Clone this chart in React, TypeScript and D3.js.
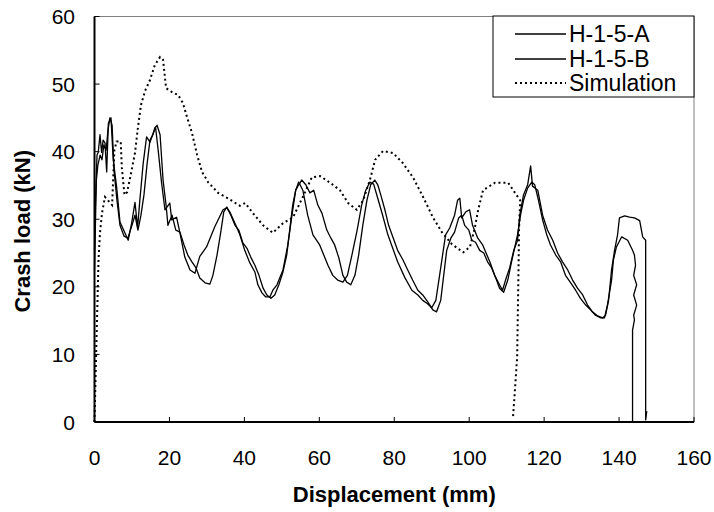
import React from "react";
import * as d3 from "d3";

const xTicks = [0, 20, 40, 60, 80, 100, 120, 140, 160];
const yTicks = [0, 10, 20, 30, 40, 50, 60];
const seriesNames = ["H-1-5-A", "H-1-5-B", "Simulation"];

const specimenA: [number, number][] = [[0,25.4],[0.27,32.8],[0.67,39.5],[1.0,39.9],[1.47,42.5],[1.9,39.9],[2.3,41.7],[2.8,41.3],[3.25,37],[3.7,44.2],[4.4,45],[5.0,38.8],[5.9,34.8],[6.8,29.6],[8.1,28],[9.0,26.9],[9.9,29.4],[10.8,32.5],[11.5,28.8],[12.1,32.8],[13.0,38.3],[13.9,42.2],[14.8,41.4],[15.7,42.8],[16.3,43.6],[17.0,40.2],[17.9,35.4],[18.8,31.4],[20.1,32.4],[20.6,29.9],[21.9,30.3],[22.8,28],[24.1,24.4],[25.5,22.5],[26.8,22],[28.1,24.5],[29.9,25.9],[32.1,28.9],[34.3,31.4],[35.3,31.7],[36.1,31.1],[37.9,28.9],[38.8,27.7],[40.1,25.4],[41.5,23.5],[42.8,22.2],[43.6,20.3],[44.7,19.1],[45.7,18.5],[46.8,18.5],[47.6,19.5],[48.7,20.3],[50.3,22.5],[51.6,26.2],[52.7,30.6],[53.7,34.3],[54.5,35.5],[55.6,34.3],[56.9,30.6],[58.3,27.7],[60.1,26.2],[62.3,23.2],[63.6,21.7],[64.9,21],[66.3,20.7],[67.5,21.7],[68.7,24.7],[70.1,28.4],[71.3,32.1],[72.4,34.3],[73.5,35.5],[74.5,35.2],[75.6,33.1],[76.9,30.6],[78.3,27.7],[79.6,25.7],[80.9,23.7],[82.8,21.4],[84.7,19.5],[86.3,18.8],[87.6,18],[88.9,17.5],[90,16.9],[91.1,18],[92.1,21.7],[92.9,24.7],[93.7,27.7],[94.8,28.7],[96.1,30.6],[96.9,32.8],[97.5,33.1],[98,30.2],[99.1,31.1],[100.1,31.4],[100.9,29.1],[102.3,27.2],[103.6,26.2],[105.5,23.7],[106.8,21.7],[108.1,20.3],[108.9,19.5],[109.7,21],[110.8,22.8],[111.9,25.4],[112.9,26.9],[113.5,30.6],[114.5,33.6],[115.6,35.1],[116.4,37.9],[116.9,34.9],[118.3,34.3],[119.6,30.6],[120.9,28.4],[122.3,26.9],[123.6,25],[124.9,23.7],[126.3,22.5],[127.6,21],[128.9,19.8],[130.3,18.8],[131.6,17.3],[132.9,16.3],[134.3,15.7],[135.6,15.4],[136.4,15.8],[137.2,18],[138,22.5],[138.8,25.4],[139.6,27.7],[140.1,30.2],[141.5,30.5],[142.8,30.3],[144.1,30.2],[145.5,29.8],[146.3,27.4],[147.1,26.9],[147.1,0.3],[147.4,1.6]];

const specimenB: [number, number][] = [[0,22.5],[0.27,29.9],[0.5,35.8],[0.9,38],[1.5,39.5],[2,38.8],[2.5,41],[3.1,40.2],[3.6,43.2],[4.1,45],[4.7,43.9],[5.2,37.3],[6,32.8],[6.8,29.1],[7.9,27.5],[8.9,27.2],[10,29.1],[10.8,30.6],[11.6,28.4],[12.4,30.6],[13.2,33.6],[14,38],[14.8,41.7],[15.6,42.5],[16.1,43.5],[16.7,43.9],[17.5,42.5],[18.3,35.8],[19.1,32.1],[19.6,29.1],[20.7,30.6],[21.7,28.4],[22.8,28.1],[23.9,26.2],[24.9,24.7],[26,23.7],[27.1,22.8],[28.1,21.3],[29.5,20.6],[30.8,20.4],[31.6,21.7],[32.7,24.7],[33.7,28.1],[34.5,31.1],[35.3,31.8],[36.4,30.6],[37.5,29.1],[38.5,28.4],[39.6,26.5],[40.7,25.7],[41.7,24.4],[42.8,23.2],[43.9,21.7],[45,19.8],[46,18.8],[47.1,18.3],[48.1,18.8],[49.2,20.3],[50.3,22.2],[51.3,24.7],[52.1,28.4],[52.9,32.1],[53.7,34.3],[54.5,35.1],[55.3,35.8],[56.4,35.1],[57.5,33.9],[58.5,34.3],[59.6,32.1],[60.7,30.9],[62,28.4],[63.1,27.2],[64.1,26.2],[65.2,24.3],[66.3,21.7],[67.3,20.7],[68.4,20.3],[69.5,21.7],[70.5,24.7],[71.6,29.1],[72.7,32.8],[73.7,35.1],[74.8,35.8],[75.6,35.1],[76.4,33.6],[77.5,31.4],[78.5,29.1],[79.6,27.4],[80.9,25.4],[82.3,24],[83.6,22.5],[84.9,21],[86.3,19.5],[87.6,18.8],[88.9,17.8],[90.3,16.6],[91.3,16.3],[92.4,18],[93.2,21.7],[94,25.4],[95.1,27.2],[96.1,28.1],[97.2,30.2],[98,30.6],[98.8,29.1],[99.9,28.4],[100.7,26.9],[101.7,26.6],[102.8,25.4],[103.9,25],[104.9,23.7],[106,22.8],[107.1,21.3],[108.1,19.8],[109.2,19.2],[110.3,21],[111.3,23.7],[112.1,25.7],[112.9,27.7],[113.7,30.6],[114.5,32.8],[115.6,34.6],[116.7,35.5],[117.5,35.1],[118.5,32.8],[119.6,29.9],[120.7,27.7],[121.7,26.2],[123.1,24.7],[124.4,23.7],[125.7,21.7],[127.1,20.6],[128.4,19.5],[129.7,18.3],[131.1,17.3],[132.4,16.6],[133.7,15.8],[135.1,15.4],[136.1,15.4],[136.9,17.3],[138,21],[138.5,24],[139.3,25.9],[140.7,27.4],[142.3,26.9],[143.6,25.4],[144.1,24.7],[144.4,23.2],[143.9,21.7],[144.7,20.3],[143.9,18.8],[144.7,17.3],[143.9,15.8],[144.1,15.1],[143.6,13.6],[143.6,0]];

const simulation: [number, number][] = [[0,0],[0.27,6.2],[0.53,12.1],[0.8,18],[1.07,24],[1.47,28],[2.0,30.9],[2.8,33.3],[3.6,32.8],[4.7,32.1],[5.3,40.2],[5.9,41.5],[7.0,41.5],[7.3,37.6],[8.0,33.6],[8.7,34],[9.5,36.1],[10.8,39.8],[11.6,43.6],[12.4,46.9],[13.5,49],[14.8,50.6],[16.1,52.8],[17.5,54],[18.3,53.6],[19.1,49.4],[20.7,48.8],[22.3,48.4],[23.6,47.2],[24.7,45.1],[26,42.8],[27.4,39.5],[28.7,37],[30.3,35.5],[33,33.9],[35.6,33.1],[38.8,32],[40.2,32.4],[42.3,30.9],[45,29.1],[47.6,28],[50.3,29.4],[53,30.3],[55.6,33.3],[58,36.2],[60.2,36.4],[62.9,35.4],[65.5,34.3],[67.7,32.4],[70,31.4],[71.7,32.8],[73.5,35.8],[74.9,38.8],[77,40.1],[79.7,39.8],[82.3,38.3],[85,36.2],[87.7,33.3],[90.3,30.3],[92.7,28.1],[95.4,26.3],[98.4,25.1],[100.2,25.9],[101.5,28.7],[102.4,31.4],[103.7,34.3],[106.9,35.4],[110.4,35.4],[113.6,32.8],[113.3,28.4],[113.2,24],[112.8,9.6],[112.2,4.7],[111.7,0.7]];

const W = 714, H = 512;
const M = { left: 94.5, right: 694, top: 16.5, bottom: 422 };
const FONT = "Liberation Sans, Arial, sans-serif";

export default function App() {
  const x = d3.scaleLinear().domain([0, 160]).range([M.left, M.right]);
  const y = d3.scaleLinear().domain([0, 60]).range([M.bottom, M.top]);
  const line = d3.line<[number, number]>().x(d => x(d[0])).y(d => y(d[1]));

  const legendX = 493, legendY = 16, legendW = 201, legendH = 81;
  const rowY = [34, 59, 83];

  return (
    <svg width={W} height={H} style={{ position: "absolute", left: 0, top: 0, background: "#fff" }} fontFamily={FONT}>
      <rect x={0} y={0} width={W} height={H} fill="#fff" />
      <rect x={M.left} y={M.top} width={M.right - M.left} height={M.bottom - M.top} fill="none" stroke="#808080" strokeWidth={1} />
      <path d={line(simulation) || ""} fill="none" stroke="#000" strokeWidth={2} strokeDasharray="2 3" />
      <path d={line(specimenA) || ""} fill="none" stroke="#000" strokeWidth={1.3} strokeLinejoin="round" />
      <path d={line(specimenB) || ""} fill="none" stroke="#000" strokeWidth={1.3} strokeLinejoin="round" />
      <line x1={M.left} x2={M.left} y1={M.top} y2={M.bottom} stroke="#000" strokeWidth={2} />
      <line x1={M.left} x2={M.right} y1={M.bottom} y2={M.bottom} stroke="#000" strokeWidth={2} />
      {yTicks.map(t => (
        <g key={"y" + t}>
          <line x1={M.left} x2={M.left + 5} y1={y(t)} y2={y(t)} stroke="#000" strokeWidth={1} />
          <text x={M.left - 19.5} y={y(t)} textAnchor="end" dominantBaseline="central" fontSize={21}>{t}</text>
        </g>
      ))}
      {xTicks.map(t => (
        <g key={"x" + t}>
          <line x1={x(t)} x2={x(t)} y1={M.bottom} y2={M.bottom - 5} stroke="#000" strokeWidth={1} />
          <text x={x(t)} y={457} textAnchor="middle" dominantBaseline="central" fontSize={21}>{t}</text>
        </g>
      ))}
      <text x={(M.left + M.right) / 2} y={494} textAnchor="middle" dominantBaseline="central" fontSize={22} fontWeight="bold">Displacement (mm)</text>
      <text transform={`translate(22, ${(M.top + M.bottom) / 2 + 12}) rotate(-90)`} textAnchor="middle" dominantBaseline="central" fontSize={22} fontWeight="bold">Crash load (kN)</text>
      <rect x={legendX} y={legendY} width={legendW} height={legendH} fill="#fff" stroke="#000" strokeWidth={1} />
      {seriesNames.map((n, i) => (
        <g key={n}>
          <line x1={515} x2={566} y1={rowY[i]} y2={rowY[i]} stroke="#000" strokeWidth={i === 2 ? 2 : 1.3} strokeDasharray={i === 2 ? "2 3" : undefined} />
          <text x={569} y={rowY[i]} dominantBaseline="central" fontSize={23}>{n}</text>
        </g>
      ))}
    </svg>
  );
}
